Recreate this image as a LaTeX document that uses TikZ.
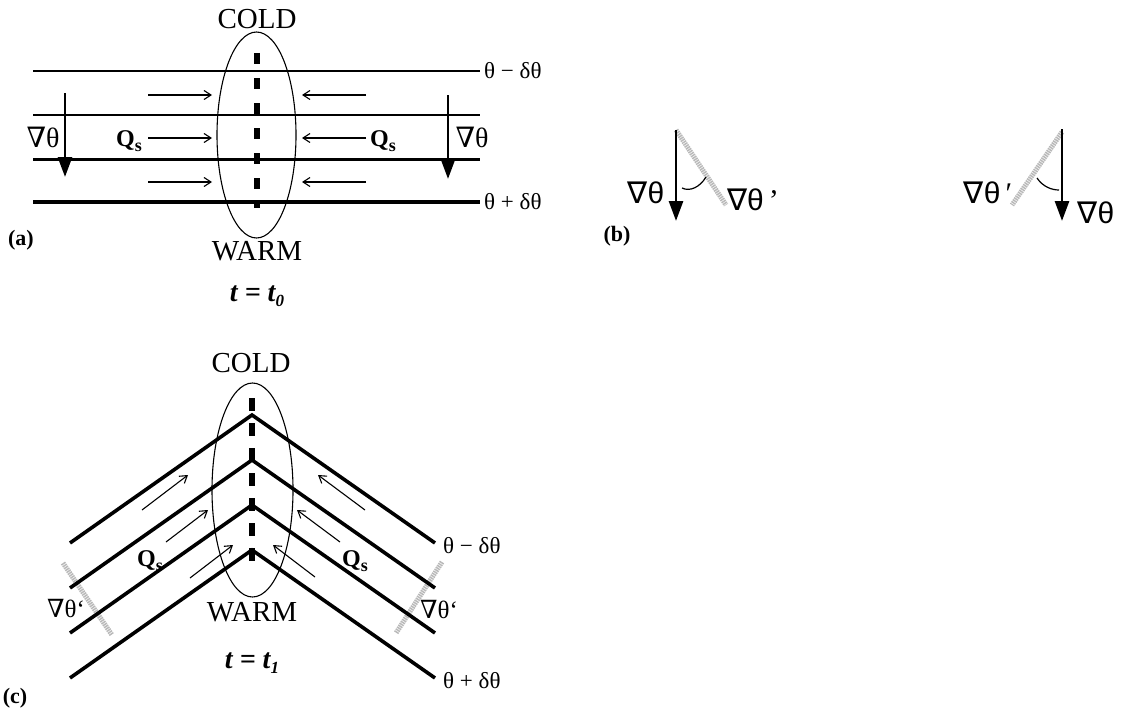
\documentclass[tikz,border=0pt]{standalone}
\usepackage{fontspec}
\setmainfont{Liberation Serif}
\newfontfamily\dvs{DejaVu Serif}
\newfontfamily\dvsans{DejaVu Sans}
\newfontfamily\lsans{Liberation Sans}
\usetikzlibrary{arrows.meta}
\newcommand{\gradT}{{\dvs ∇}θ}
\newcommand{\gradS}{{\dvsans ∇}{\lsans θ}}
\newcommand{\Qsub}{\textbf{Q\raisebox{-5pt}{\fontsize{18}{18}\selectfont s}}}
\tikzset{
  big/.style={font=\fontsize{29}{32}\selectfont, inner sep=0pt},
  isolbl/.style={font=\fontsize{23}{26}\selectfont, inner sep=0pt, anchor=west},
  gradlbl/.style={font=\fontsize{28}{30}\selectfont, inner sep=0pt},
  bgradlbl/.style={font=\fontsize{30}{32}\selectfont, inner sep=0pt},
  qlbl/.style={font=\fontsize{24}{26}\selectfont, inner sep=0pt},
  panel/.style={font=\fontsize{22}{24}\selectfont\bfseries, inner sep=0pt},
  timelbl/.style={font=\fontsize{28}{30}\selectfont\bfseries\itshape, inner sep=0pt},
  thinarr/.style={line width=1.1pt, -{Straight Barb[length=7pt,width=9pt]}},
  gradarr/.style={line width=2.8pt, -{Triangle[length=20pt,width=14pt]}},
  greyline/.style={draw=gray!55, line width=5pt, dash pattern=on 1.5pt off 0.8pt},
  frontline/.style={line width=6pt, dash pattern=on 11pt off 14pt},
  ell/.style={line width=1.1pt},
  chev/.style={line width=3.6pt, line join=miter},
  arcl/.style={line width=1.2pt}
}
\begin{document}
\begin{tikzpicture}[x=1pt,y=-1pt]
\useasboundingbox (0,0) rectangle (1121,717);

% ---------------- panel (a) ----------------
\draw[line width=2pt] (33,71) -- (480,71);
\draw[line width=2.6pt] (33,115) -- (480,115);
\draw[line width=3pt] (33,159) -- (480,159);
\draw[line width=3.6pt] (33,202) -- (480,202);
\node[isolbl] (aTop) at (484,71) {θ − δθ};
\node[isolbl] (aBot) at (484,202) {θ + δθ};
\draw[ell] (256.5,135) ellipse [x radius=39.5, y radius=103];
\draw[frontline] (257,53) -- (257,208);
\node[big] (aCold) at (257,19) {COLD};
\node[big] (aWarm) at (257,251) {WARM};
\foreach \y in {95,138,182}{
  \draw[thinarr] (148,\y) -- (212,\y);
  \draw[thinarr] (366,\y) -- (302,\y);
}
\node[qlbl] (aQl) at (129,141) {\Qsub};
\node[qlbl] (aQr) at (383,141) {\Qsub};
\draw[gradarr] (65,93) -- (65,177);
\draw[gradarr] (448,95) -- (448,179);
\node[gradlbl] (aGl) at (43,137) {\gradT};
\node[gradlbl] (aGr) at (472,137) {\gradT};
\node[panel] (aLab) at (21,240) {(a)};
\node[timelbl] (aTime) at (257,296) {t = t\raisebox{-5pt}{\fontsize{17}{17}\selectfont 0}};

% ---------------- panel (b) ----------------
\draw[greyline] (676,130) -- (726,205);
\draw[gradarr] (676,130) -- (676,221);
\draw[arcl] (682,188) .. controls (690,192) and (700,187) .. (706,177);
\node[bgradlbl] (bGl) at (646,193) {\gradS};
\node[bgradlbl] (bGpl) at (753,200) {\gradS\,'};
\node[panel] (bLab) at (617,236) {(b)};
\draw[greyline] (1062,132) -- (1012,205);
\draw[gradarr] (1062,129) -- (1062,221);
\draw[arcl] (1037,178) .. controls (1043,187) and (1052,190) .. (1059,190);
\node[bgradlbl] (bGpr) at (988,193) {\gradS\,′};
\node[bgradlbl] (bGr) at (1096,213) {\gradS};

% ---------------- panel (c) ----------------
\draw[greyline] (63,563) -- (112,635);
\draw[greyline] (442,562) -- (396,633);
\foreach \a in {415,460,505,550}{
  \draw[chev] (70,\a+128) -- (252,\a) -- (435,\a+128);
}
\node[isolbl] (cTop) at (443,546) {θ − δθ};
\node[isolbl] (cBot) at (443,681) {θ + δθ};
\draw[ell] (252.5,490) ellipse [x radius=40.5, y radius=107];
\draw[frontline, dash pattern=on 13pt off 12pt] (252,398) -- (252,563);
\node[big] (cCold) at (251,363) {COLD};
\node[big] (cWarm) at (252,612) {WARM};
\draw[thinarr] (142,510) -- (188,475);
\draw[thinarr] (166,542) -- (208,510);
\draw[thinarr] (190,578) -- (233,545);
\draw[thinarr] (365,510) -- (318,475);
\draw[thinarr] (340,542) -- (297,510);
\draw[thinarr] (315,577) -- (273,545);
\node[qlbl] (cQl) at (150,561) {\Qsub};
\node[qlbl] (cQr) at (355,561) {\Qsub};
\node[gradlbl, font=\fontsize{25}{27}\selectfont] (cGl) at (66,609) {\gradT`};
\node[gradlbl, font=\fontsize{25}{27}\selectfont] (cGr) at (439,610) {\gradT`};
\node[timelbl] (cTime) at (252,663) {t = t\raisebox{-5pt}{\fontsize{17}{17}\selectfont 1}};
\node[panel] (cLab) at (15,698) {(c)};
\end{tikzpicture}
\end{document}
